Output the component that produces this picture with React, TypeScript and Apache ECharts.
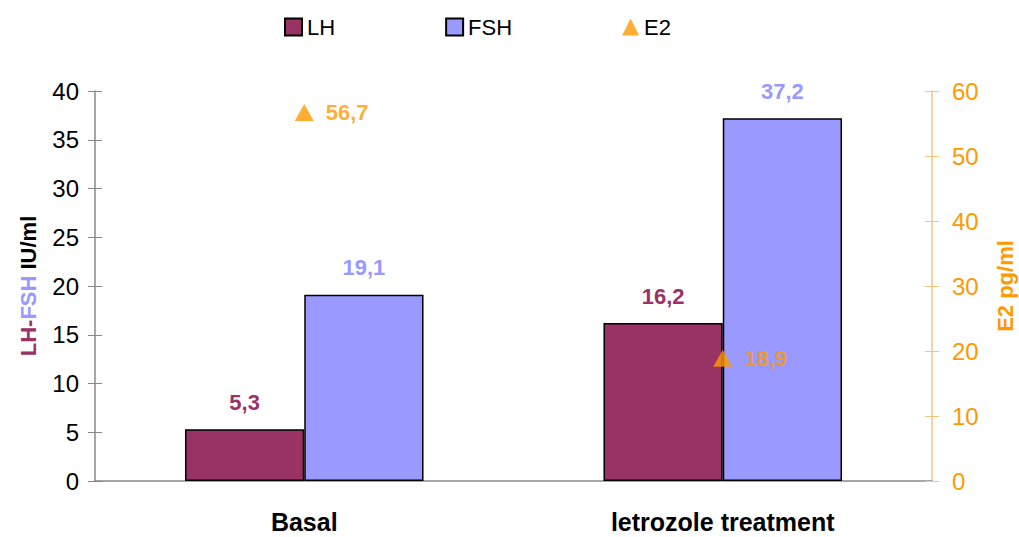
import React, { useEffect, useRef } from "react";
import * as echarts from "echarts";

const categories = ["Basal", "letrozole treatment"];
const lhValues = [5.3, 16.2];
const fshValues = [19.1, 37.2];
const e2Values = [56.7, 18.9];
const leftTicks = { min: 0, max: 40, interval: 5 };
const rightTicks = { min: 0, max: 60, interval: 10 };

const LH = "#993366";
const FSH = "#9999FF";
const E2 = "#FF9900";
const FONT = "Liberation Sans, Arial, sans-serif";

const comma = (v: number) => String(v).replace(".", ",");

export default function App() {
  const ref = useRef<HTMLDivElement>(null);
  useEffect(() => {
    document.body.style.margin = "0";
    const chart = echarts.init(ref.current!, null, { renderer: "svg" });
    const baseLeft = {
      type: "value",
      position: "left",
      ...leftTicks,
      splitLine: { show: false },
      axisLine: { show: true, lineStyle: { color: "#888", width: 1.5 } },
    };
    const baseRight = {
      type: "value",
      position: "right",
      ...rightTicks,
      splitLine: { show: false },
      axisLine: { show: true, lineStyle: { color: "#F5C680", width: 1.5 } },
    };
    const dataLabel = (color: string) => ({
      show: true,
      position: "top",
      distance: 16,
      formatter: (p: any) => comma(p.value),
      fontSize: 22,
      fontWeight: "bold",
      color,
      fontFamily: FONT,
    });
    chart.setOption({
      animation: false,
      textStyle: { fontFamily: FONT },
      legend: {
        top: 11,
        left: 279,
        itemGap: 110,
        itemWidth: 17,
        itemHeight: 17,
        textStyle: { fontSize: 22, color: "#000", fontFamily: FONT },
        data: [
          { name: "LH", icon: "rect" },
          { name: "FSH", icon: "rect" },
          { name: "E2", icon: "triangle", itemStyle: { borderWidth: 0 } },
        ],
      },
      grid: {
        left: 95,
        right: 87,
        top: 91,
        bottom: 56,
        containLabel: false,
        outerBoundsMode: "none",
      },
      xAxis: {
        type: "category",
        data: categories,
        axisLine: { show: true, lineStyle: { color: "#888", width: 1.5 } },
        axisTick: { show: false },
        axisLabel: {
          margin: 28,
          fontSize: 25,
          fontWeight: "bold",
          color: "#000",
          fontFamily: FONT,
        },
      },
      yAxis: [
        {
          ...baseLeft,
          axisTick: { show: true, length: 7, lineStyle: { color: "#888" } },
          axisLabel: { fontSize: 24, color: "#000", margin: 16, fontFamily: FONT },
          name: "{a|LH-}{b|FSH}{c| IU/ml}",
          nameLocation: "middle",
          nameRotate: 90,
          nameGap: 56,
          nameTextStyle: {
            fontSize: 22,
            fontWeight: "bold",
            fontFamily: FONT,
            rich: {
              a: { color: LH, fontSize: 22, fontWeight: "bold", fontFamily: FONT },
              b: { color: FSH, fontSize: 22, fontWeight: "bold", fontFamily: FONT },
              c: { color: "#000", fontSize: 22, fontWeight: "bold", fontFamily: FONT },
            },
          },
        },
        {
          ...baseRight,
          axisTick: { show: true, length: 7, lineStyle: { color: "#F5C680" } },
          axisLabel: { fontSize: 24, color: E2, margin: 20, fontFamily: FONT },
          name: "E2 pg/ml",
          nameLocation: "middle",
          nameRotate: 90,
          nameGap: 62,
          nameTextStyle: { fontSize: 22, fontWeight: "bold", color: E2, fontFamily: FONT },
        },
        {
          ...baseLeft,
          axisLine: { show: false },
          axisTick: { show: true, inside: true, length: 7, lineStyle: { color: "#888" } },
          axisLabel: { show: false },
        },
        {
          ...baseRight,
          axisLine: { show: false },
          axisTick: { show: true, inside: true, length: 7, lineStyle: { color: "#F5C680" } },
          axisLabel: { show: false },
        },
      ],
      series: [
        {
          name: "LH",
          type: "bar",
          data: lhValues,
          yAxisIndex: 0,
          barGap: "0%",
          barCategoryGap: "43%",
          itemStyle: { color: LH, borderColor: "#000", borderWidth: 1.5 },
          label: dataLabel(LH),
        },
        {
          name: "FSH",
          type: "bar",
          data: fshValues,
          yAxisIndex: 0,
          itemStyle: { color: FSH, borderColor: "#000", borderWidth: 1.5 },
          label: dataLabel(FSH),
        },
        {
          name: "E2",
          type: "scatter",
          data: e2Values,
          yAxisIndex: 1,
          symbol: "triangle",
          symbolSize: [19, 17],
          itemStyle: { color: E2 },
          z: 5,
          label: {
            show: true,
            position: "right",
            distance: 12,
            formatter: (p: any) => comma(p.value),
            fontSize: 22,
            fontWeight: "bold",
            color: E2,
            fontFamily: FONT,
          },
        },
      ],
    });
    return () => chart.dispose();
  }, []);
  return <div ref={ref} style={{ width: 1019, height: 537 }} />;
}
